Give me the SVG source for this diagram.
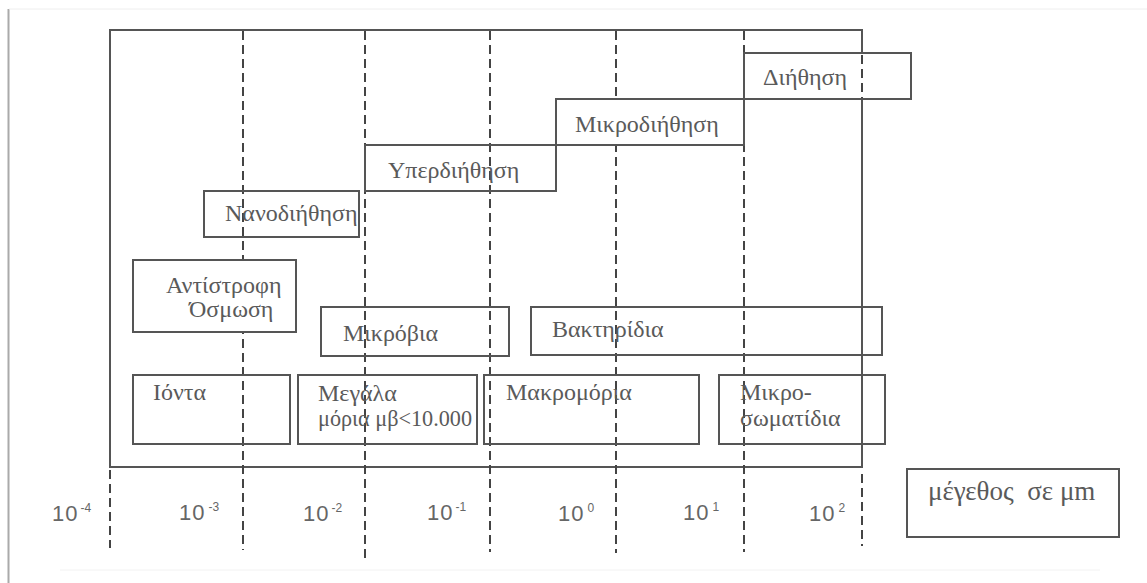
<svg xmlns="http://www.w3.org/2000/svg" width="1147" height="583" viewBox="0 0 1147 583">
<style>
.box{fill:none;stroke:#555;stroke-width:2}
.wbox{fill:#fff;stroke:#555;stroke-width:2}
.dash{fill:none;stroke:#444;stroke-width:2;stroke-dasharray:9 5}
.t{font-family:"Liberation Serif","DejaVu Serif",serif;font-size:24px;fill:#5a5a5a}
.n{font-family:"Liberation Sans",Arial,sans-serif;font-size:22px;fill:#666;letter-spacing:1px}
.s{font-size:12px;letter-spacing:0}
</style>
<rect x="0" y="0" width="1147" height="583" fill="#fff"/>
<!-- page shadow -->
<line x1="8.5" y1="9" x2="8.5" y2="583" stroke="#aaa" stroke-width="2"/>
<line x1="9" y1="9" x2="1147" y2="9" stroke="#eee" stroke-width="1"/>
<line x1="60" y1="570" x2="1100" y2="570" stroke="#f2f2f2" stroke-width="1"/>

<g id="frame">
<polyline class="box" points="862,53 862,30 110,30 110,467 862,467 862,99"/>
</g>

<g id="connectors">
<line class="dash" x1="110" y1="470" x2="110" y2="548"/>
<line class="dash" x1="243" y1="31" x2="243" y2="550"/>
<line class="dash" x1="365" y1="31" x2="365" y2="560"/>
<line class="dash" x1="490" y1="31" x2="490" y2="552"/>
<line class="dash" x1="616" y1="31" x2="616" y2="553"/>
<line class="dash" x1="744" y1="31" x2="744" y2="552"/>
<line class="dash" x1="862" y1="474" x2="862" y2="546"/>
</g>

<g id="n-dithisi">
<rect class="wbox" x="744" y="53" width="167" height="46"/>
<line class="dash" x1="862" y1="55" x2="862" y2="98"/>
<text class="t" x="763" y="85">Διήθηση</text>
</g>
<g id="n-mikrodithisi">
<rect class="wbox" x="556" y="99" width="188" height="46"/>
<text class="t" x="575" y="132">Μικροδιήθηση</text>
</g>
<g id="n-yperdithisi">
<rect class="box" x="365" y="145" width="191" height="46"/>
<text class="t" x="388" y="178">Υπερδιήθηση</text>
</g>
<g id="n-nanodithisi">
<rect class="box" x="204" y="191" width="155" height="46"/>
<text class="t" x="225" y="221">Νανοδιήθηση</text>
</g>
<g id="n-antistrofi">
<rect class="wbox" x="133" y="260" width="163" height="72"/>
<text class="t" x="166" y="293">Αντίστροφη</text>
<text class="t" x="189" y="317">Όσμωση</text>
</g>
<g id="n-mikrobia">
<rect class="box" x="321" y="307" width="188" height="49"/>
<text class="t" x="343" y="341">Μικρόβια</text>
</g>
<g id="n-baktiridia">
<rect class="box" x="531" y="307" width="351" height="48"/>
<text class="t" x="552" y="337">Βακτηρίδια</text>
</g>
<g id="n-ionta">
<rect class="box" x="133" y="375" width="157" height="69"/>
<text class="t" x="153" y="400">Ιόντα</text>
</g>
<g id="n-megala">
<rect class="box" x="298" y="375" width="179" height="69"/>
<text class="t" x="318" y="401">Μεγάλα</text>
<text class="t" x="318" y="426" textLength="154" lengthAdjust="spacingAndGlyphs">μόρια μβ&lt;10.000</text>
</g>
<g id="n-makromoria">
<rect class="box" x="484" y="375" width="215" height="69"/>
<text class="t" x="506" y="400">Μακρομόρια</text>
</g>
<g id="n-mikrosomatidia">
<rect class="box" x="719" y="375" width="166" height="69"/>
<text class="t" x="740" y="400">Μικρο-</text>
<text class="t" x="740" y="426">σωματίδια</text>
</g>
<g id="n-megethos">
<rect class="box" x="907" y="469" width="212" height="68"/>
<text class="t" x="928" y="500" style="font-size:27px" xml:space="preserve">μέγεθος  σε μm</text>
</g>

<g id="axis-labels">
<text class="n" x="52" y="521">10<tspan class="s" dx="2" dy="-9">-4</tspan></text>
<text class="n" x="179" y="520">10<tspan class="s" dx="3" dy="-9">-3</tspan></text>
<text class="n" x="303" y="521">10<tspan class="s" dx="2" dy="-9">-2</tspan></text>
<text class="n" x="427" y="520">10<tspan class="s" dx="2" dy="-9">-1</tspan></text>
<text class="n" x="558" y="521">10<tspan class="s" dx="3" dy="-9">0</tspan></text>
<text class="n" x="683" y="520">10<tspan class="s" dx="3" dy="-9">1</tspan></text>
<text class="n" x="809" y="521">10<tspan class="s" dx="3" dy="-9">2</tspan></text>
</g>
</svg>
